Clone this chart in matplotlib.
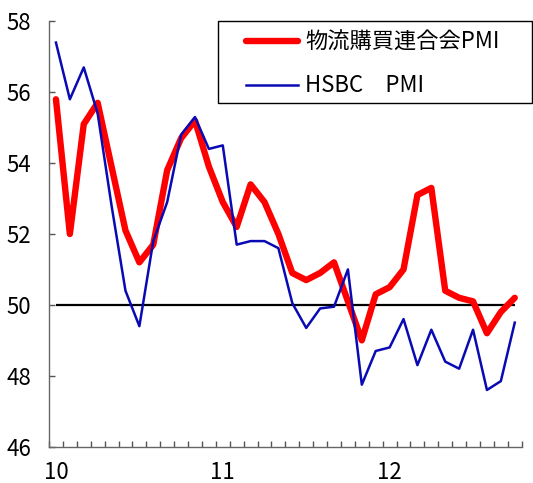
import matplotlib
matplotlib.use("Agg")
import matplotlib.pyplot as plt
from matplotlib.patches import Rectangle
from matplotlib.ticker import FixedLocator, NullFormatter

plt.rcParams['font.family'] = ['Noto Sans CJK JP', 'DejaVu Sans']

# Monthly PMI readings, Jan 2010 - Oct 2012
logistics_pmi = [55.8, 52.0, 55.1, 55.7, 53.9, 52.1, 51.2, 51.7, 53.8, 54.7, 55.2, 53.9,
                 52.9, 52.2, 53.4, 52.9, 52.0, 50.9, 50.7, 50.9, 51.2, 50.1, 49.0, 50.3,
                 50.5, 51.0, 53.1, 53.3, 50.4, 50.2, 50.1, 49.2, 49.8, 50.2]
hsbc_pmi = [57.4, 55.8, 56.7, 55.4, 52.8, 50.4, 49.4, 51.8, 52.9, 54.8, 55.3, 54.4,
            54.5, 51.7, 51.8, 51.8, 51.6, 50.05, 49.35, 49.9, 49.95, 51.0, 47.75, 48.7,
            48.8, 49.6, 48.3, 49.3, 48.4, 48.2, 49.3, 47.6, 47.85, 49.5]
year_labels = ["10", "11", "12"]
series_names = ["物流購買連合会PMI", "HSBC\u3000PMI"]
threshold = 50

n = len(logistics_pmi)
x = list(range(n))

W, H = 533, 483
fig = plt.figure(figsize=(W / 100, H / 100), dpi=100)
ax = fig.add_axes([49 / W, 1 - 446.7 / H, (521.7 - 49) / W, (446.7 - 21.3) / H])

ax.plot(x, logistics_pmi, color="#ff0000", lw=4.6, solid_joinstyle="round",
        solid_capstyle="round", label=series_names[0], zorder=3)
ax.plot(x, hsbc_pmi, color="#0a0ab4", lw=1.8, label=series_names[1], zorder=4)
ax.hlines(threshold, x[0], x[-1], color="black", lw=1.6, zorder=2)

ax.set_xlim(-0.5, n - 0.5)
ax.set_ylim(46, 58)
ax.set_yticks(range(46, 59, 2))

# year labels at each January, boundary ticks between months
ax.set_xticks([0, 12, 24])
ax.set_xticklabels(year_labels)
ax.xaxis.set_minor_locator(FixedLocator([i - 0.5 for i in range(n + 1)]))
ax.xaxis.set_minor_formatter(NullFormatter())
ax.tick_params(axis="x", which="major", length=0, pad=10.5, labelsize=16)
ax.tick_params(axis="x", which="minor", direction="in", length=4.5, width=1, color="#555555")
ax.tick_params(axis="y", direction="in", length=4, width=1, color="#555555", pad=13, labelsize=16)

for side in ("top", "right"):
    ax.spines[side].set_visible(False)
for side in ("left", "bottom"):
    ax.spines[side].set_color("#666666")
    ax.spines[side].set_linewidth(1.0)

# legend box
box = Rectangle((218 / W, 1 - 103 / H), (531.5 - 218) / W, (103 - 21) / H,
                transform=fig.transFigure, facecolor="white", edgecolor="black",
                lw=1.0, zorder=5, clip_on=False)
ax.add_patch(box)

leg = ax.legend(loc="upper left", bbox_to_anchor=(246 / W, 1 - 30.5 / H),
                bbox_transform=fig.transFigure, fontsize=16, frameon=False,
                handlelength=2.35, handletextpad=0.3, borderpad=0,
                labelspacing=0.94, borderaxespad=0)
leg.set_zorder(6)

fig.savefig("out.png", dpi=100)
